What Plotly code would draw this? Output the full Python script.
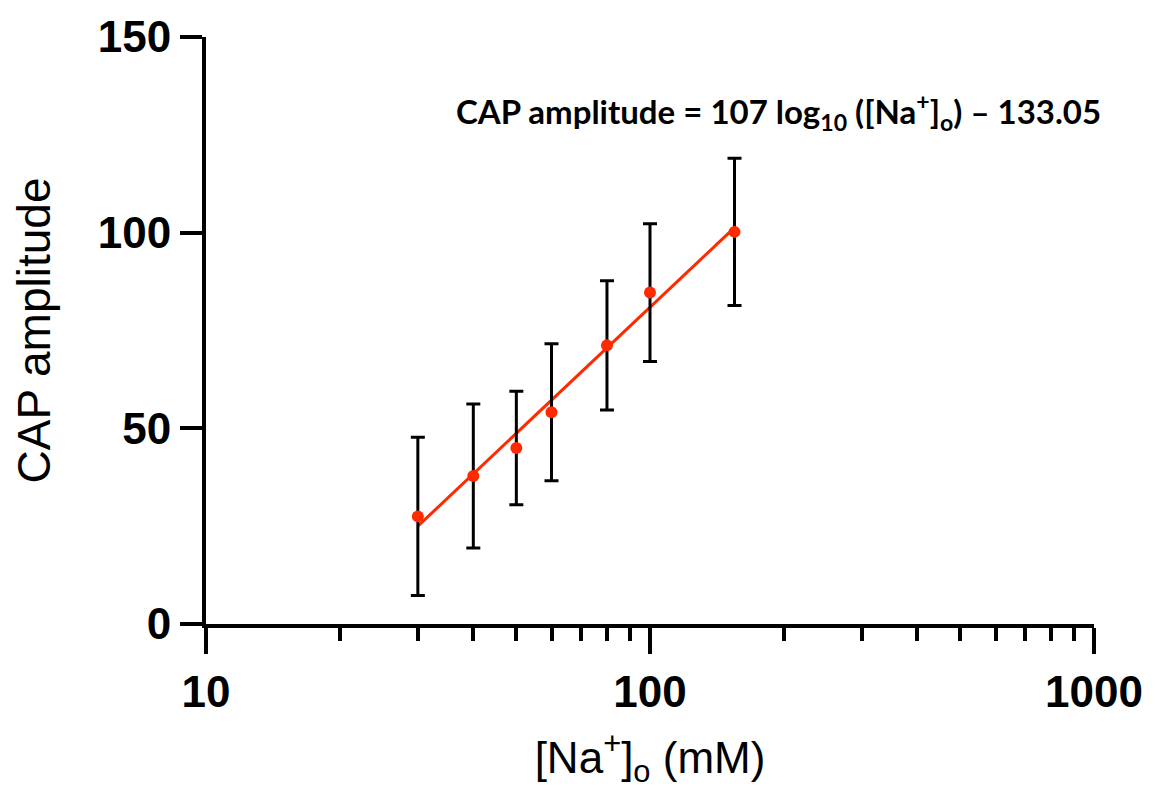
import plotly.graph_objects as go

# Data
na_conc = [30, 40, 50, 60, 80, 100, 155]
cap_amp = [27.5, 37.8, 45.0, 54.1, 71.2, 84.7, 100.2]
cap_err = [20.2, 18.4, 14.5, 17.5, 16.5, 17.6, 18.8]

fit_x = [30, 155]
fit_y = [25.0, 101.3]

x_tickvals = [10, 100, 1000]
x_ticktext = ["10", "100", "1000"]
x_minor = [20, 30, 40, 50, 60, 70, 80, 90, 200, 300, 400, 500, 600, 700, 800, 900]
y_tickvals = [0, 50, 100, 150]

red = "#FF2A00"

fig = go.Figure()
fig.add_trace(go.Scatter(
    x=fit_x, y=fit_y, mode="lines",
    line=dict(color=red, width=3), showlegend=False, hoverinfo="skip"))
fig.add_trace(go.Scatter(
    x=na_conc, y=cap_amp, mode="markers",
    marker=dict(color=red, size=12),
    error_y=dict(type="data", array=cap_err, visible=True, color="black",
                 thickness=3, width=7),
    showlegend=False))

fig.add_annotation(
    text="CAP amplitude = 107 log<sub>10</sub> ([Na<sup>+</sup>]<sub>o</sub>) – 133.05",
    xref="paper", yref="y", x=1.01, y=131, xanchor="right", yanchor="middle",
    showarrow=False, font=dict(family="Lato", size=33, color="black", weight="bold"))

fig.update_layout(
    width=1155, height=789,
    margin=dict(l=206, r=56, t=31, b=165),
    plot_bgcolor="white", paper_bgcolor="white",
    font=dict(family="Liberation Sans, Arial, sans-serif", color="black"),
    xaxis=dict(
        type="log", range=[1, 3],
        tickvals=x_tickvals, ticktext=x_ticktext,
        ticks="outside", ticklen=26, tickwidth=4, tickcolor="black",
        showline=True, linewidth=4, linecolor="black",
        showgrid=False, zeroline=False,
        tickfont=dict(size=44, weight="bold", family="Liberation Sans"),
        minor=dict(tickvals=x_minor, ticks="outside", ticklen=13, tickwidth=4,
                   tickcolor="black", showgrid=False),
        title=dict(text="[Na<sup>+</sup>]<sub>o</sub> (mM)",
                   font=dict(size=44, family="Liberation Sans"), standoff=28),
    ),
    yaxis=dict(
        range=[0, 150], tickvals=y_tickvals,
        ticks="outside", ticklen=22, tickwidth=4, tickcolor="black",
        showline=True, linewidth=4, linecolor="black",
        showgrid=False, zeroline=False,
        tickfont=dict(size=44, weight="bold", family="Liberation Sans"),
        title=dict(text="CAP amplitude",
                   font=dict(size=46, family="Liberation Sans"), standoff=34),
    ),
)

fig.write_html("out.html")
